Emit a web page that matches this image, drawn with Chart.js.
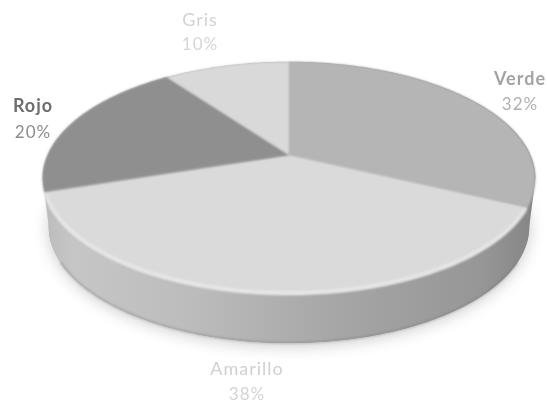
<!DOCTYPE html>
<html>
<head>
<meta charset="utf-8">
<title>Pie</title>
<script src="https://cdn.jsdelivr.net/npm/chart.js@4"></script>
<style>
  html, body { margin: 0; padding: 0; background: #fff; overflow: hidden; }
  canvas { display: block; }
</style>
</head>
<body>
<canvas id="chart-1" width="547" height="402"></canvas>
<script>
const categories = ['Verde', 'Amarillo', 'Rojo', 'Gris'];
const shares = [32, 38, 20, 10];
const shareLabels = ['32%', '38%', '20%', '10%'];
const sliceColors = ['#b5b5b5', '#dadada', '#8f8f8f', '#d9d9d9'];
const labelColors = ['#a3a3a3', '#d0d0d0', '#6e6e6e', '#d2d2d2'];
const shareColors = ['#b0b0b0', '#d4d4d4', '#8c8c8c', '#d6d6d6'];

// perspective view of the flat pie, apex where the slices meet
const view = { x: 289, y: 155, a: 241.5, b: 112, p: 0.2, depth: 48, floor: 0.975 };

function project(angle, r) {
  const u = Math.cos(angle) * r, v = Math.sin(angle) * r;
  const w = 1 - view.p * v;
  return [view.x + view.a * u / w, view.y + view.b * v / w];
}

function sliceRim(ctx, start, end, dy) {
  const steps = Math.ceil(Math.abs(end - start) * 60);
  for (let i = 0; i <= steps; i++) {
    const pt = project(start + (end - start) * i / steps, 1);
    ctx.lineTo(pt[0], pt[1] + dy);
  }
}

function floorRim(ctx, start, end) {
  const steps = Math.ceil(Math.abs(end - start) * 60);
  for (let i = 0; i <= steps; i++) {
    const pt = project(start + (end - start) * i / steps, 1);
    ctx.lineTo(view.x + (pt[0] - view.x) * view.floor, pt[1] + view.depth);
  }
}

const pie3d = {
  id: 'pie3d',
  beforeDatasetsDraw(chart) {
    const ctx = chart.ctx;
    const arcs = chart.getDatasetMeta(0).data;
    const edge = Math.asin(view.p);

    // soft shadow under the pie
    ctx.save();
    ctx.shadowColor = 'rgba(0,0,0,0.2)';
    ctx.shadowBlur = 16;
    ctx.shadowOffsetY = 3;
    ctx.fillStyle = '#a0a0a0';
    ctx.beginPath();
    floorRim(ctx, 0, Math.PI * 2);
    ctx.closePath();
    ctx.fill();
    ctx.restore();

    // side wall
    const wall = ctx.createLinearGradient(45, 0, 532, 0);
    wall.addColorStop(0, '#bcbcbc');
    wall.addColorStop(0.06, '#c6c6c6');
    wall.addColorStop(0.3, '#bcbcbc');
    wall.addColorStop(0.6, '#a6a6a6');
    wall.addColorStop(0.9, '#969696');
    wall.addColorStop(1, '#868686');
    ctx.fillStyle = wall;
    ctx.beginPath();
    floorRim(ctx, edge, Math.PI - edge);
    sliceRim(ctx, Math.PI - edge, Math.PI * 2 + edge, 0);
    ctx.closePath();
    ctx.fill();

    // darker lip at the foot of the wall
    ctx.save();
    ctx.filter = 'blur(1px)';
    ctx.strokeStyle = 'rgba(110,110,110,0.35)';
    ctx.lineWidth = 2;
    ctx.beginPath();
    floorRim(ctx, edge + 0.3, Math.PI - edge - 0.3);
    ctx.stroke();
    ctx.restore();

    // top face, one slice per arc of the pie
    ctx.save();
    ctx.filter = 'blur(0.8px)';
    arcs.forEach(arc => {
      ctx.fillStyle = arc.options.backgroundColor;
      ctx.beginPath();
      ctx.moveTo(view.x, view.y);
      sliceRim(ctx, arc.startAngle, arc.endAngle, 0);
      ctx.closePath();
      ctx.fill();
    });
    ctx.restore();

    // bevel along the front edge
    ctx.save();
    ctx.filter = 'blur(1.5px)';
    ctx.strokeStyle = 'rgba(240,240,240,0.75)';
    ctx.lineWidth = 3;
    ctx.beginPath();
    sliceRim(ctx, arcs[1].startAngle + 0.03, arcs[1].endAngle - 0.03, -2);
    ctx.stroke();
    ctx.restore();

    return false;
  },
  afterDraw(chart) {
    const ctx = chart.ctx;
    ctx.save();
    ctx.filter = 'blur(0.7px)';
    ctx.textAlign = 'center';
    ctx.textBaseline = 'middle';
    ctx.letterSpacing = '1px';
    const spots = [[520, 79, 105], [247, 369, 395], [33, 106, 133], [200, 20, 45]];
    categories.forEach((name, i) => {
      ctx.font = (i === 0 || i === 2 ? 'bold ' : '') + '18px Lato';
      ctx.fillStyle = labelColors[i];
      ctx.fillText(name, spots[i][0], spots[i][1]);
      ctx.font = '17px Lato';
      ctx.fillStyle = shareColors[i];
      ctx.fillText(shareLabels[i], spots[i][0], spots[i][2]);
    });
    ctx.restore();
  }
};

new Chart(document.getElementById('chart-1'), {
  type: 'pie',
  data: {
    labels: categories,
    datasets: [{ data: shares, backgroundColor: sliceColors, borderWidth: 0 }]
  },
  options: {
    responsive: false,
    animation: false,
    plugins: { legend: { display: false }, tooltip: { enabled: false } }
  },
  plugins: [pie3d]
});
</script>
</body>
</html>
